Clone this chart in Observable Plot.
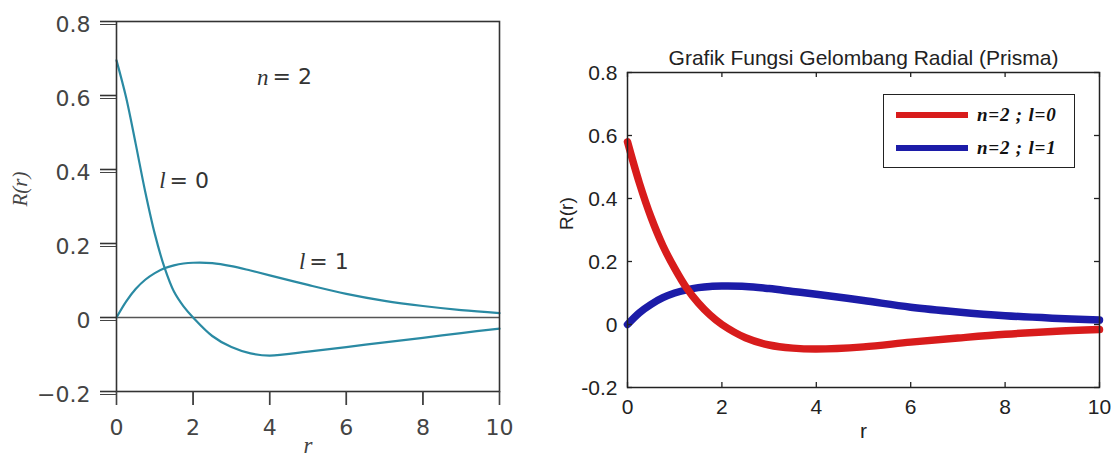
<!DOCTYPE html>
<html><head><meta charset="utf-8">
<script src="https://cdn.jsdelivr.net/npm/d3@7"></script>
<script src="https://cdn.jsdelivr.net/npm/@observablehq/plot@0.6"></script>
<style>
html,body{margin:0;padding:0;background:#fff;}
#wrap{position:relative;width:1118px;height:470px;overflow:hidden;background:#fff;}
#left{position:absolute;left:0;top:0;}
#right{position:absolute;left:560px;top:0;}
#legend{position:absolute;left:883px;top:94px;width:192px;height:74px;border:1.6px solid #222;background:#fff;box-sizing:border-box;}
.lrow{position:absolute;left:12px;height:20px;display:flex;align-items:center;}
.sw{display:inline-block;width:72px;height:6px;margin-right:9px;}
.lt{font-family:"Liberation Serif",serif;font-weight:bold;font-style:italic;font-size:19px;letter-spacing:0.8px;color:#111;white-space:pre;}
</style></head>
<body><div id="wrap"><div id="left"></div><div id="right"></div><div id="legend"></div></div>
<script>
// ---- data ----
const r = [0, 0.25, 0.5, 0.75, 1, 1.25, 1.5, 1.75, 2, 2.5, 3, 3.5, 4, 5, 6, 7, 8, 9, 10];
// left panel (textbook figure)
const leftL0 = [0.695, 0.595, 0.47, 0.34, 0.226, 0.136, 0.07, 0.03, 0, -0.05, -0.08, -0.097, -0.103, -0.092, -0.08, -0.067, -0.055, -0.042, -0.03];
const leftL1 = [0, 0.043, 0.077, 0.102, 0.12, 0.133, 0.141, 0.146, 0.148, 0.147, 0.139, 0.127, 0.114, 0.088, 0.064, 0.045, 0.031, 0.02, 0.012];
// right panel (Prisma)
const rightL0 = [0.58, 0.45, 0.34, 0.25, 0.178, 0.116, 0.068, 0.03, 0, -0.042, -0.065, -0.075, -0.078, -0.071, -0.056, -0.043, -0.031, -0.022, -0.016];
const rightL1 = [0, 0.037, 0.064, 0.085, 0.1, 0.11, 0.117, 0.121, 0.122, 0.121, 0.114, 0.105, 0.096, 0.076, 0.055, 0.04, 0.028, 0.02, 0.014];
const xTicks = [0, 2, 4, 6, 8, 10];
const yTicks = [-0.2, 0, 0.2, 0.4, 0.6, 0.8];
const seriesNames = ["n=2 ; l=0", "n=2 ; l=1"];
const seriesColors = ["#d81c1c", "#1c1ca8"];
const title = "Grafik Fungsi Gelombang Radial (Prisma)";
// left panel annotations
const annoSym = ["n", "l", "l"];
const annoVal = ["= 2", "= 0", "= 1"];
const annoR = [3.97, 1.28, 4.93];
const annoV = [0.649, 0.37, 0.151];

// ---- left panel ----
const leftData = r.flatMap((x, i) => [{r: x, R: leftL0[i], s: "l=0"}, {r: x, R: leftL1[i], s: "l=1"}]);
const fmtLeft = d => d === 0 ? "0" : (d < 0 ? "\u2212" : "") + Math.abs(d);
const ai = annoSym.map((_, i) => i);
const LW = 560, LH = 470, LML = 116, LMR = 61, LMT = 21, LMB = 79;
const lpw = LW - LML - LMR, lph = LH - LMT - LMB;
const left = Plot.plot({
  width: LW, height: LH, marginLeft: LML, marginRight: LMR, marginTop: LMT, marginBottom: LMB,
  x: {domain: [0, 10], label: null},
  y: {domain: [-0.2, 0.8], label: null},
  style: {fontFamily: "DejaVu Sans", fontSize: "22px", color: "#444", background: "transparent", overflow: "visible"},
  marks: [
    Plot.ruleY([0], {stroke: "#555", strokeWidth: 1.6}),
    Plot.line(leftData, {x: "r", y: "R", z: "s", stroke: "#2a8aa3", strokeWidth: 2.2, curve: "catmull-rom"}),
    Plot.frame({stroke: "#333", strokeWidth: 1.6}),
    Plot.ruleY(yTicks, {y: d => d, insetLeft: -16, insetRight: lpw, stroke: "#333", strokeWidth: 1.6}),
    Plot.ruleX(xTicks, {x: d => d, insetBottom: -14, insetTop: lph, stroke: "#333", strokeWidth: 1.6}),
    Plot.axisY(yTicks, {anchor: "left", tickSize: 16, tickPadding: 10, tickFormat: fmtLeft, dy: 3, label: null}),
    Plot.axisX(xTicks, {anchor: "bottom", tickSize: 14, tickPadding: 14, tickFormat: d => String(d), label: null}),
    Plot.text(["R(r)"], {frameAnchor: "left", dx: -96, rotate: -90, fontFamily: "Liberation Serif", fontStyle: "italic", fontSize: 21, fill: "#444"}),
    Plot.text(["r"], {frameAnchor: "bottom", dy: 61, fontFamily: "Liberation Serif", fontStyle: "italic", fontSize: 23, fill: "#444"}),
    Plot.text(ai, {x: i => annoR[i], y: i => annoV[i], text: i => annoSym[i], textAnchor: "end", fontFamily: "Liberation Serif", fontStyle: "italic", fontSize: 23, fill: "#333"}),
    Plot.text(ai, {x: i => annoR[i], y: i => annoV[i], text: i => annoVal[i], textAnchor: "start", dx: 4, fontFamily: "DejaVu Sans", fontSize: 22, fill: "#333"})
  ]
});
document.getElementById("left").appendChild(left);

// ---- right panel ----
const rightData = r.flatMap((x, i) => [{r: x, R: rightL1[i], s: seriesNames[1]}, {r: x, R: rightL0[i], s: seriesNames[0]}]);
const fmtRight = d => (d < 0 ? "-" : "") + Math.abs(d);
const RW = 558, RH = 470, RML = 67, RMR = 19, RMT = 72, RMB = 83;
const pw = RW - RML - RMR, ph = RH - RMT - RMB, tk = 5;
const right = Plot.plot({
  width: RW, height: RH, marginLeft: RML, marginRight: RMR, marginTop: RMT, marginBottom: RMB,
  x: {domain: [0, 10], label: null},
  y: {domain: [-0.2, 0.8], label: null},
  color: {domain: seriesNames, range: seriesColors},
  style: {fontFamily: "Liberation Sans", fontSize: "21px", color: "#222", background: "transparent", overflow: "visible"},
  marks: [
    Plot.line(rightData, {x: "r", y: "R", z: "s", stroke: "s", strokeWidth: 7.5, curve: "catmull-rom"}),
    Plot.frame({stroke: "#222", strokeWidth: 1.5}),
    Plot.ruleX(xTicks, {x: d => d, insetTop: ph - tk, stroke: "#222", strokeWidth: 1.3}),
    Plot.ruleX(xTicks, {x: d => d, insetBottom: ph - tk, stroke: "#222", strokeWidth: 1.3}),
    Plot.ruleY(yTicks, {y: d => d, insetRight: pw - tk, stroke: "#222", strokeWidth: 1.3}),
    Plot.ruleY(yTicks, {y: d => d, insetLeft: pw - tk, stroke: "#222", strokeWidth: 1.3}),
    Plot.axisY(yTicks, {anchor: "left", tickSize: 0, tickPadding: 10, tickFormat: fmtRight, dy: 1, label: null}),
    Plot.axisX(xTicks, {anchor: "bottom", tickSize: 0, tickPadding: 12, tickFormat: d => String(d), label: null}),
    Plot.text([title], {frameAnchor: "top", dy: -22, fontFamily: "Liberation Sans", fontSize: 21, fill: "#222", style: "letter-spacing:0.7px"}),
    Plot.text(["R(r)"], {frameAnchor: "left", dx: -61, rotate: -90, fontFamily: "Liberation Sans", fontSize: 19, fill: "#222"}),
    Plot.text(["r"], {frameAnchor: "bottom", dy: 50, fontFamily: "Liberation Sans", fontSize: 21, fill: "#222"})
  ]
});
document.getElementById("right").appendChild(right);

// ---- legend (right panel) ----
const lg = document.getElementById("legend");
seriesNames.forEach((name, i) => {
  const row = document.createElement("div");
  row.className = "lrow";
  row.style.top = (10 + i * 33) + "px";
  const sw = document.createElement("span");
  sw.className = "sw"; sw.style.background = seriesColors[i];
  const t = document.createElement("span");
  t.className = "lt"; t.textContent = name;
  row.appendChild(sw); row.appendChild(t);
  lg.appendChild(row);
});
</script>
</body></html>
